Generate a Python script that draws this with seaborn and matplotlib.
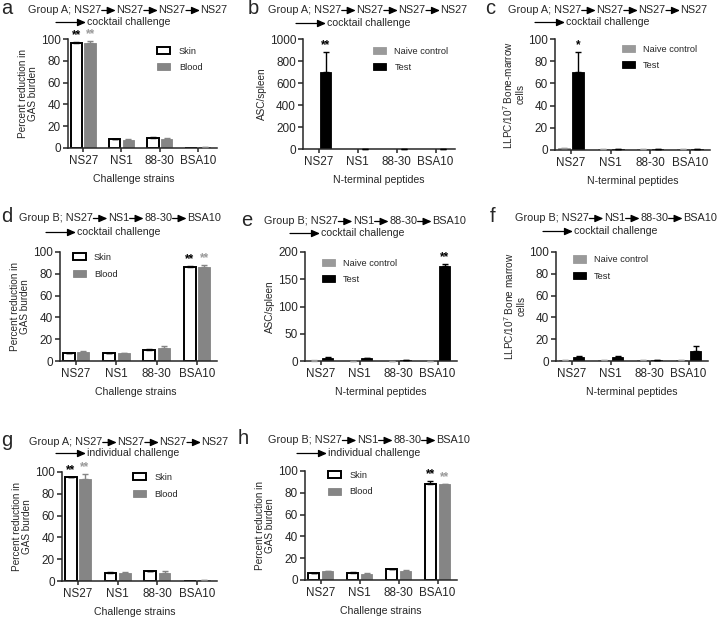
import numpy as np
import pandas as pd
import matplotlib
matplotlib.use("Agg")
import matplotlib.pyplot as plt
from matplotlib.patches import FancyArrowPatch
import seaborn as sns

# ---------------- data ----------------
strains = ["NS27", "NS1", "88-30", "BSA10"]

# panel a: Group A, cocktail challenge (percent reduction)
a_skin = [96.5, 8.0, 9.5, 0.0]
a_skin_err = [0.5, 0.3, 0.3, 0.0]
a_blood = [96.0, 7.5, 8.5, 1.0]
a_blood_err = [2.0, 0.5, 0.5, 0.3]

# panel b: Group A ASC/spleen
b_naive = [2.0, 2.0, 2.0, 2.0]
b_naive_err = [0.0, 0.0, 0.0, 0.0]
b_test = [700.0, 3.0, 3.0, 3.0]
b_test_err = [180.0, 0.5, 0.5, 0.5]

# panel c: Group A LLPC
c_naive = [1.5, 1.0, 1.0, 1.0]
c_naive_err = [0.2, 0.1, 0.1, 0.1]
c_test = [70.0, 1.0, 1.0, 1.2]
c_test_err = [18.0, 0.1, 0.1, 0.1]

# panel d: Group B, cocktail challenge
d_skin = [7.0, 7.0, 10.5, 86.5]
d_skin_err = [0.3, 0.3, 0.3, 0.5]
d_blood = [8.5, 7.0, 11.5, 86.0]
d_blood_err = [0.5, 0.5, 2.5, 2.5]

# panel e: Group B ASC/spleen
e_naive = [0.8, 0.5, 0.5, 0.5]
e_naive_err = [0.2, 0.1, 0.1, 0.1]
e_test = [5.0, 5.0, 1.0, 175.0]
e_test_err = [2.0, 1.0, 0.3, 3.0]

# panel f: Group B LLPC
f_naive = [1.0, 1.0, 1.0, 1.0]
f_naive_err = [0.2, 0.1, 0.1, 0.1]
f_test = [4.0, 4.0, 1.0, 9.5]
f_test_err = [1.0, 0.5, 0.2, 4.0]

# panel g: Group A, individual challenge
g_skin = [95.0, 7.5, 9.0, 0.3]
g_skin_err = [0.7, 0.5, 0.5, 0.0]
g_blood = [94.0, 7.0, 7.5, 1.0]
g_blood_err = [4.0, 1.0, 2.0, 0.3]

# panel h: Group B, individual challenge
h_skin = [6.0, 6.0, 10.0, 88.5]
h_skin_err = [0.5, 1.0, 0.5, 2.5]
h_blood = [8.0, 5.5, 8.0, 88.0]
h_blood_err = [0.3, 0.5, 1.0, 0.5]

# ---------------- style ----------------
sns.set_style("ticks")
plt.rcParams["font.family"] = ["Liberation Sans", "DejaVu Sans"]
plt.rcParams["mathtext.fontset"] = "custom"
plt.rcParams["mathtext.rm"] = "Liberation Sans"

W, H = 718, 618
fig = plt.figure(figsize=(W / 100, H / 100), dpi=100)

GRAY = "#858585"
LGRAY = "#9a9a9a"


def axes_px(left, right, top, bottom):
    return fig.add_axes([left / W, 1 - bottom / H, (right - left) / W, (bottom - top) / H])


def draw_panel(ax, v1, e1, v2, e2, names, kind, ymax, ystep, ylabel, xlabel,
               stars, leg_anchor, xlab_x=0.5):
    df = pd.DataFrame({
        "strain": strains * 2,
        "group": [names[0]] * 4 + [names[1]] * 4,
        "value": list(v1) + list(v2),
    })
    if kind == "sb":
        pal = {names[0]: "white", names[1]: GRAY}
    else:
        pal = {names[0]: LGRAY, names[1]: "black"}
    sns.barplot(data=df, x="strain", y="value", hue="group", order=strains,
                hue_order=names, palette=pal, width=0.72, gap=0.17,
                errorbar=None, ax=ax, saturation=1, legend=False)
    conts = list(ax.containers)
    errs = [e1, e2]
    for i, cont in enumerate(conts):
        if kind == "sb":
            ec = "black" if i == 0 else GRAY
            lw = 1.4 if i == 0 else 0.6
            ecol = "black" if i == 0 else GRAY
        else:
            ec = LGRAY if i == 0 else "black"
            lw = 0.6
            ecol = ec
        for j, bar in enumerate(cont.patches):
            bar.set_edgecolor(ec)
            bar.set_linewidth(lw)
            h = bar.get_height()
            if h <= 0:
                continue
            x = bar.get_x() + bar.get_width() / 2
            if errs[i][j] > 0:
                ax.errorbar(x, h, yerr=[[0], [errs[i][j]]], fmt="none",
                            ecolor=ecol, elinewidth=1.0, capsize=2.3,
                            capthick=1.0, clip_on=False, zorder=3)
    # stars
    for (i, j, s) in stars:
        bar = conts[i].patches[j]
        x = bar.get_x() + bar.get_width() / 2
        y = bar.get_height() + errs[i][j]
        col = "black" if (kind != "sb" or i == 0) else LGRAY
        ax.annotate(s, (x, y), xytext=(0, 0.5), textcoords="offset points",
                    ha="center", va="bottom", fontsize=8.5, fontweight="bold",
                    color=col, annotation_clip=False)
    ax.set_xlim(-0.4, 3.5)
    ax.set_ylim(0, ymax)
    ax.set_yticks(np.arange(0, ymax + ystep / 2, ystep))
    ax.set_ylabel(ylabel, fontsize=7.2, labelpad=2, linespacing=1.0)
    ax.set_xlabel(xlabel, fontsize=7.6, labelpad=5)
    ax.xaxis.label.set_x(xlab_x)
    ax.tick_params(axis="y", labelsize=8.5, length=3.5, width=1.1, pad=1.5)
    ax.tick_params(axis="x", labelsize=8.4, length=3, width=1.1, pad=2)
    for sp in ("left", "bottom"):
        ax.spines[sp].set_linewidth(1.1)
    sns.despine(ax=ax)
    handles = [conts[0].patches[0], conts[1].patches[0]]
    ax.legend(handles=handles, labels=names, loc="upper left",
              bbox_to_anchor=leg_anchor, frameon=False, fontsize=6.7,
              handlelength=1.4, handleheight=0.8, labelspacing=0.8,
              borderpad=0, borderaxespad=0, handletextpad=0.9)


renderer = fig.canvas.get_renderer()


def arrow(x1, x2, y):
    a = FancyArrowPatch((x1 / W, 1 - y / H), (x2 / W, 1 - y / H),
                        transform=fig.transFigure,
                        arrowstyle="-|>,head_length=0.5,head_width=0.22",
                        mutation_scale=10, lw=0.9, color="black",
                        shrinkA=0, shrinkB=0)
    fig.add_artist(a)


def header(letter, lx, x0, y1, parts, a2x, y2, text2, alen=14):
    fig.text(lx / W, 1 - (y1 - 1) / H, letter, fontsize=14.5, va="center",
             ha="left")
    x = x0
    for i, p in enumerate(parts):
        t = fig.text(x / W, 1 - y1 / H, p, fontsize=7.8, va="center",
                     ha="left")
        bb = t.get_window_extent(renderer)
        x = bb.x1
        if i < len(parts) - 1:
            arrow(x + 0.5, x + 0.5 + alen, y1 + 0.5)
            x = x + alen + 1.0
    arrow(a2x, a2x + 30, y2 + 0.5)
    fig.text((a2x + 31) / W, 1 - y2 / H, text2, fontsize=7.6, va="center",
             ha="left")


SB = ["Skin", "Blood"]
NT = ["Naive control", "Test"]
PR = "Percent reduction in\nGAS burden"
CS = "Challenge strains"
NTP = "N-terminal peptides"

partsA = ["Group A; NS27", "NS27", "NS27", "NS27"]
partsB = ["Group B; NS27", "NS1", "88-30", "BSA10"]

# row 1
ax = axes_px(68, 217, 39, 148)
draw_panel(ax, a_skin, a_skin_err, a_blood, a_blood_err, SB, "sb", 100, 20,
           PR, CS, [(0, 0, "**"), (1, 0, "**")], (0.6, 0.93), xlab_x=0.44)
header("a", 1, 28, 10, partsA, 56, 22, "cocktail challenge")

ax = axes_px(303, 455, 39, 149)
draw_panel(ax, b_naive, b_naive_err, b_test, b_test_err, NT, "nt", 1000, 200,
           "ASC/spleen", NTP, [(1, 0, "**")], (0.46, 0.93))
header("b", 248, 268, 10, partsA, 296, 23, "cocktail challenge")

ax = axes_px(555, 710, 39, 150)
draw_panel(ax, c_naive, c_naive_err, c_test, c_test_err, NT, "nt", 100, 20,
           "LLPC/10$^{7}$ Bone-marrow\ncells", NTP, [(1, 0, "*")],
           (0.43, 0.95))
header("c", 485, 508, 10, partsA, 535, 22, "cocktail challenge")

# row 2
ax = axes_px(60, 217, 252, 361)
draw_panel(ax, d_skin, d_skin_err, d_blood, d_blood_err, SB, "sb", 100, 20,
           PR, CS, [(0, 3, "**"), (1, 3, "**")], (0.08, 0.99), xlab_x=0.48)
header("d", 1, 19, 218, partsB, 46, 232, "cocktail challenge")

ax = axes_px(305, 457, 252, 361)
draw_panel(ax, e_naive, e_naive_err, e_test, e_test_err, NT, "nt", 200, 50,
           "ASC/spleen", NTP, [(1, 3, "**")], (0.11, 0.94))
header("e", 241, 264, 221, partsB, 290, 233, "cocktail challenge")

ax = axes_px(556, 708, 252, 361)
draw_panel(ax, f_naive, f_naive_err, f_test, f_test_err, NT, "nt", 100, 20,
           "LLPC/10$^{7}$ Bone marrow\ncells", NTP, [], (0.11, 0.97))
header("f", 490, 515, 218, partsB, 543, 231, "cocktail challenge")

# row 3
ax = axes_px(62, 217, 472, 581)
draw_panel(ax, g_skin, g_skin_err, g_blood, g_blood_err, SB, "sb", 100, 20,
           PR, CS, [(0, 0, "**"), (1, 0, "**")], (0.46, 0.99), xlab_x=0.47)
header("g", 1, 29, 442, partsA, 56, 453, "individual challenge")

ax = axes_px(305, 457, 471, 580)
draw_panel(ax, h_skin, h_skin_err, h_blood, h_blood_err, SB, "sb", 100, 20,
           PR, CS, [(0, 3, "**"), (1, 3, "**")], (0.15, 1.0))
header("h", 238, 268, 440, partsB, 297, 453, "individual challenge")

fig.savefig("out.png", dpi=100)
